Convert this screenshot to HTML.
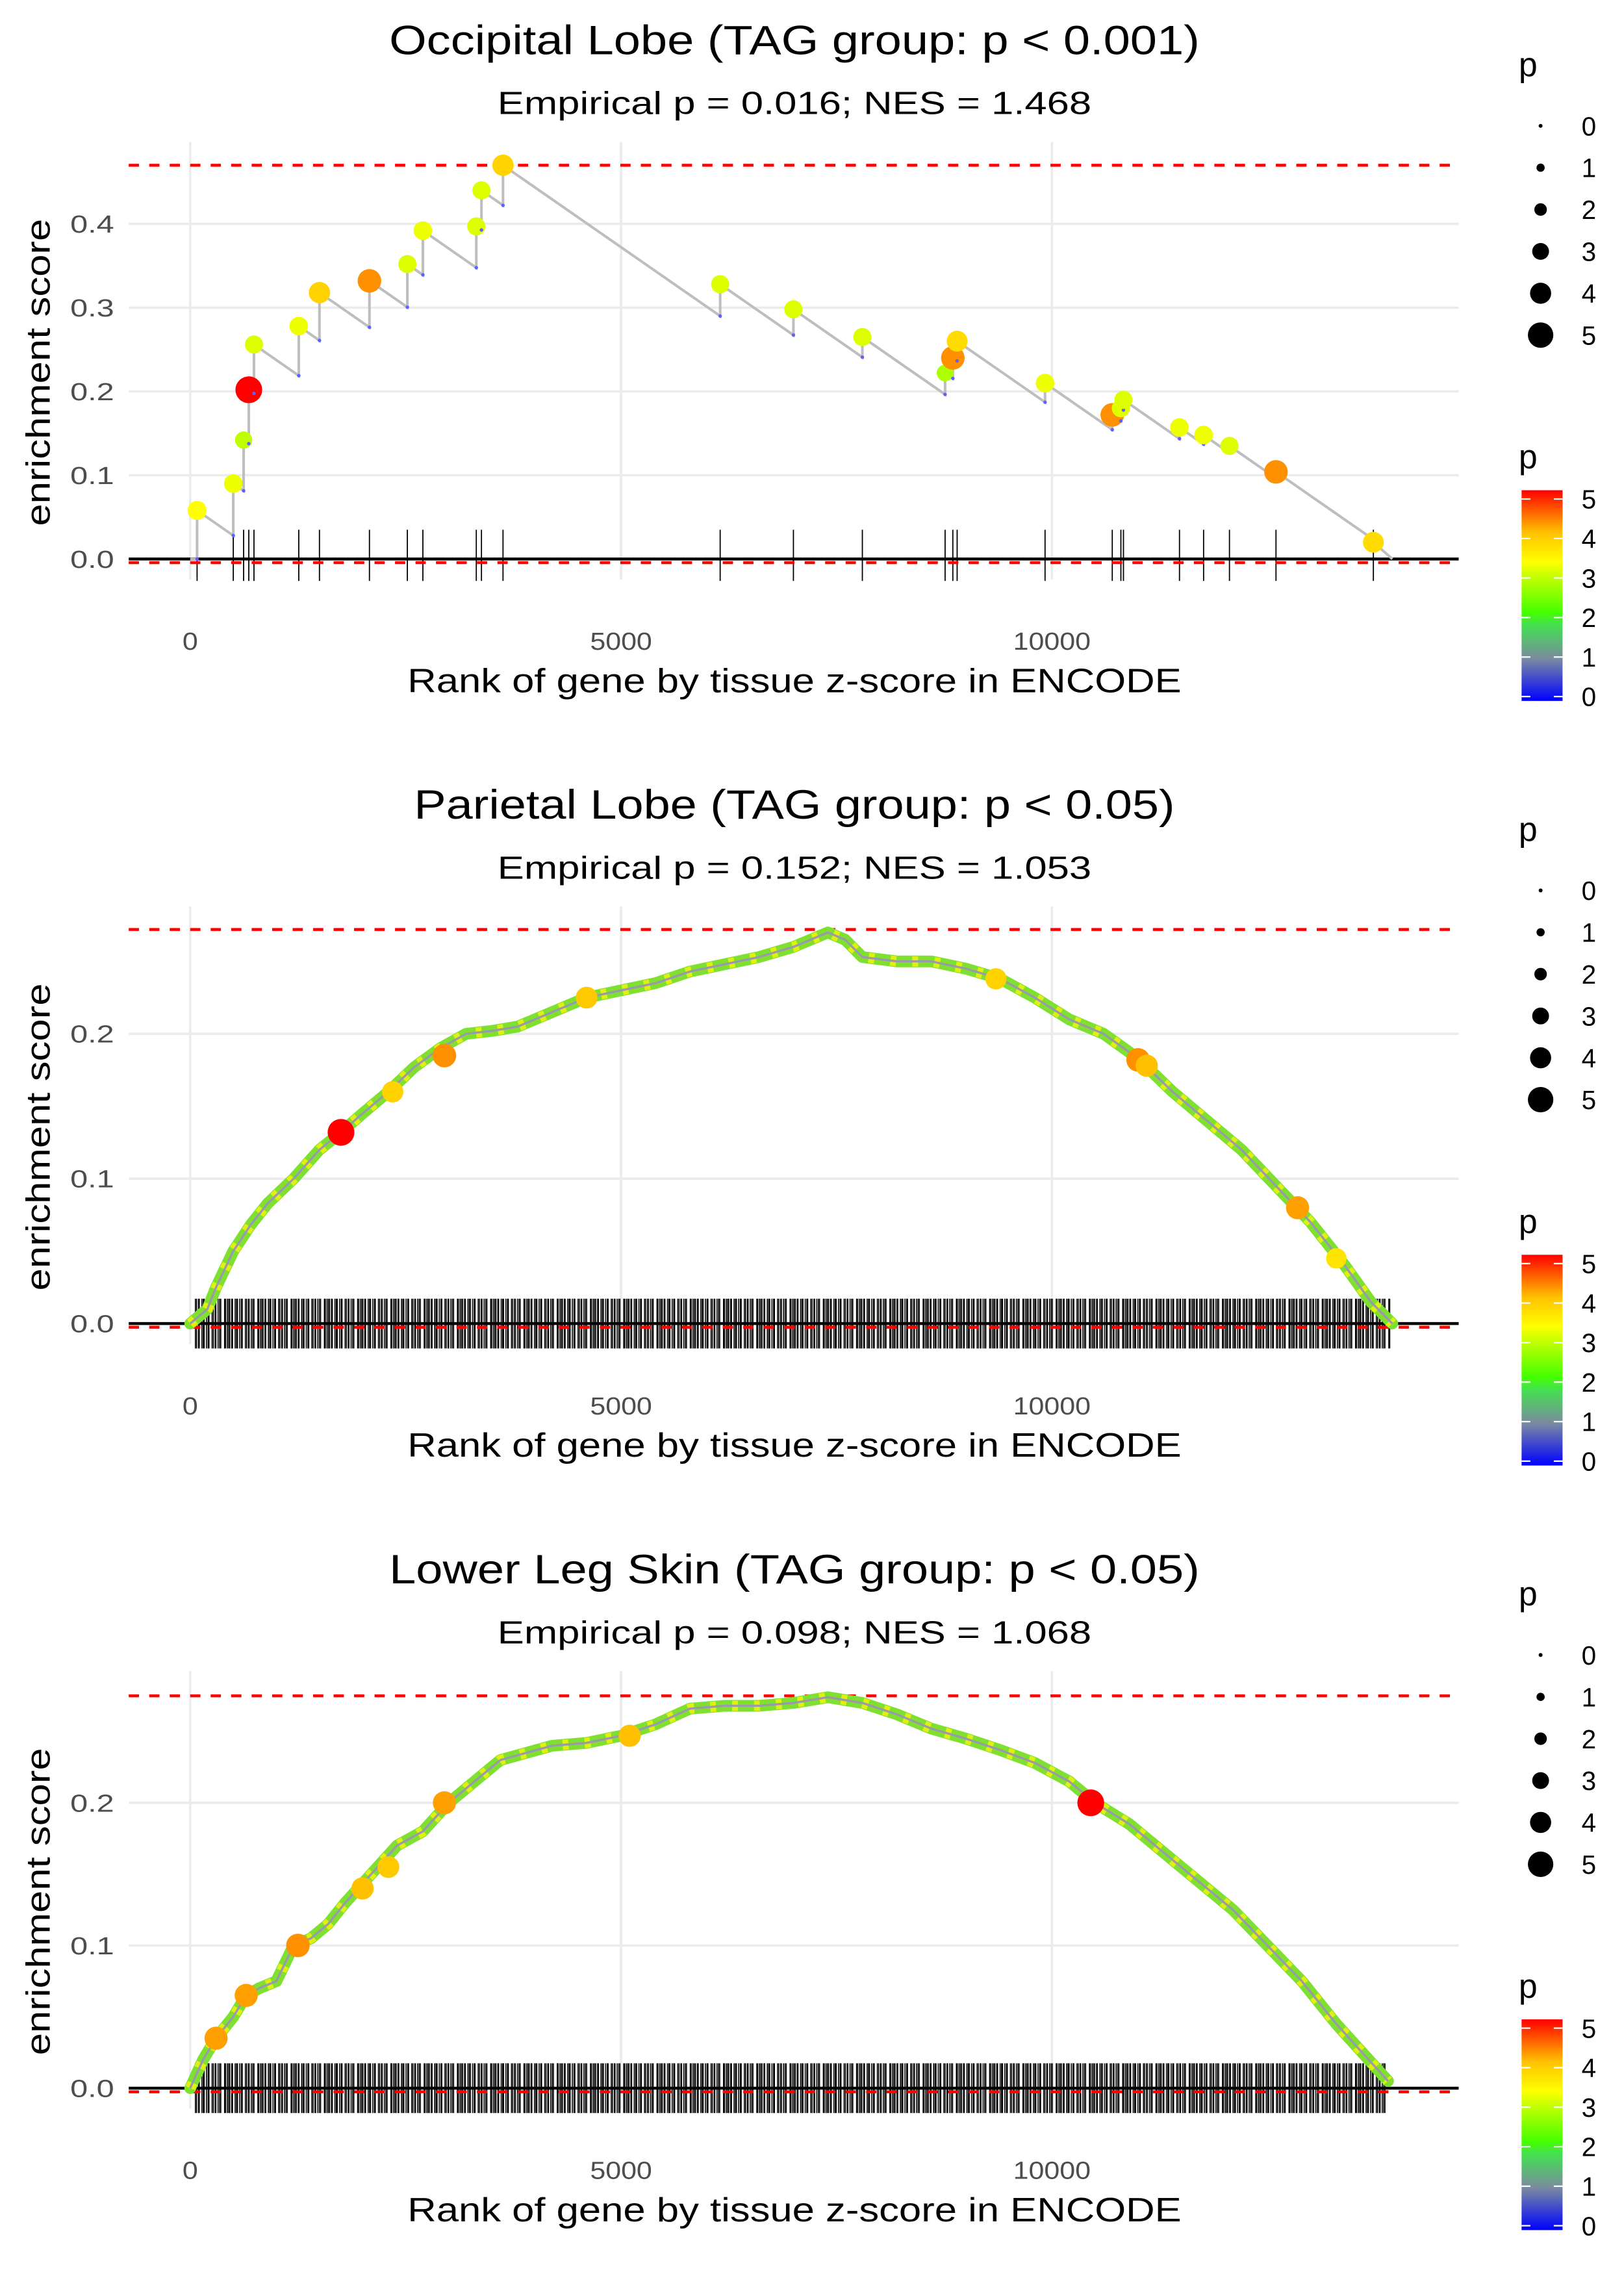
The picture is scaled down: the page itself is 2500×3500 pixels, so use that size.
<!DOCTYPE html>
<html><head><meta charset="utf-8"><style>
html,body{margin:0;padding:0;background:#fff}
svg{display:block;font-family:"Liberation Sans",sans-serif}
</style></head><body>
<svg id="fig" width="2500" height="3500" viewBox="0 0 1110 1554" xmlns="http://www.w3.org/2000/svg">
<defs>
<linearGradient id="pgrad" x1="0" y1="1" x2="0" y2="0">
<stop offset="0" stop-color="#0000ff"/><stop offset="0.2" stop-color="#7a8aa0"/><stop offset="0.36" stop-color="#44e050"/><stop offset="0.42" stop-color="#44ff00"/><stop offset="0.6" stop-color="#ccff00"/><stop offset="0.66" stop-color="#ffff00"/><stop offset="0.8" stop-color="#ffc000"/><stop offset="1" stop-color="#ff0000"/>
</linearGradient>
</defs>
</svg>
<script>
// ---------- data ----------
const titles = ["Occipital Lobe (TAG group: p < 0.001)","Parietal Lobe (TAG group: p < 0.05)","Lower Leg Skin (TAG group: p < 0.05)"];
const subtitles = ["Empirical p = 0.016; NES = 1.468","Empirical p = 0.152; NES = 1.053","Empirical p = 0.098; NES = 1.068"];
const xTicks = [0,5000,10000];
const yTicks1 = [0,0.1,0.2,0.3,0.4];
const yTicks23 = [0,0.1,0.2];
const maxES = [0.47,0.272,0.275];
// panel 1 hits
const p1Rank = [80,500,620,680,740,1260,1500,2080,2520,2700,3320,3380,3630,6150,7000,7800,8760,8850,8900,9920,10700,10800,10830,11480,11760,12060,12600,13730];
const p1ES =   [0.058,0.09,0.142,0.202,0.256,0.278,0.318,0.332,0.352,0.392,0.397,0.44,0.47,0.328,0.298,0.265,0.222,0.24,0.26,0.21,0.172,0.18,0.19,0.157,0.148,0.135,0.104,0.02];
const p1P =    [3.3,3.2,2.9,5,3.1,3.2,3.8,4.3,3.1,3.2,3.1,3.1,3.8,3.1,3.1,3.1,2.8,4.3,3.7,3.2,4.3,3.1,3.1,3.2,3.2,3.1,4.3,3.7];
const p1End = 13950;
// panel 2 running ES
const p2Rank = [0,200,300,500,700,900,1200,1500,1750,2000,2300,2600,2900,3200,3500,3800,4200,4600,5000,5400,5800,6200,6600,7000,7400,7600,7800,8200,8600,9000,9400,9800,10200,10600,11000,11400,11800,12200,12600,13000,13400,13700,13950];
const p2ES =   [0,0.01,0.025,0.05,0.068,0.083,0.1,0.12,0.132,0.145,0.16,0.177,0.19,0.2,0.202,0.205,0.215,0.225,0.23,0.235,0.243,0.248,0.253,0.26,0.27,0.265,0.253,0.25,0.25,0.245,0.238,0.225,0.21,0.2,0.183,0.16,0.14,0.12,0.095,0.07,0.04,0.015,0];
const p2BigRank = [1750,2350,2950,4600,9350,11000,11100,12850,13300];
const p2BigES =   [0.132,0.16,0.185,0.225,0.238,0.182,0.178,0.08,0.045];
const p2BigP =    [5,3.8,4.3,3.9,3.8,4.3,4,4.2,3.6];
// panel 3 running ES
const p3Rank = [0,150,300,500,650,800,1000,1200,1400,1600,1800,2100,2400,2700,3000,3300,3600,3900,4200,4600,5000,5400,5800,6200,6600,7000,7400,7800,8200,8600,9000,9400,9800,10200,10500,10900,11300,11700,12100,12500,12900,13300,13600,13900];
const p3ES =   [0,0.02,0.035,0.05,0.065,0.07,0.075,0.1,0.105,0.115,0.13,0.15,0.17,0.18,0.2,0.215,0.23,0.235,0.24,0.242,0.247,0.255,0.266,0.268,0.268,0.27,0.274,0.27,0.262,0.252,0.245,0.237,0.228,0.215,0.2,0.185,0.165,0.145,0.125,0.1,0.075,0.045,0.025,0.005];
const p3BigRank = [300,650,1250,2000,2300,2950,5100,10450];
const p3BigES =   [0.035,0.065,0.1,0.14,0.155,0.2,0.247,0.2];
const p3BigP =    [4.2,4.2,4.3,4,3.9,4.2,4,5];
const rugGaps = [14,22,9,30,16,12,26,19,10,36,15,21,8,25,18,14,44,11,20,16];
const legendVals = [0,1,2,3,4,5];

// ---------- helpers ----------
const NS = "http://www.w3.org/2000/svg";
const svg = document.getElementById('fig');
function mk(tag, attrs, parent){const e=document.createElementNS(NS,tag);for(const k in attrs)e.setAttribute(k,attrs[k]);(parent||svg).appendChild(e);return e;}
function txt(s, attrs, parent){const e=mk('text',attrs,parent);e.textContent=s;return e;}
function pColor(p){
  const stops=[[0,[0,0,255]],[1,[122,138,160]],[1.8,[68,224,80]],[2.1,[68,255,0]],[3,[204,255,0]],[3.3,[255,255,0]],[4,[255,192,0]],[4.4,[255,128,0]],[5,[255,0,0]]];
  for(let i=1;i<stops.length;i++){if(p<=stops[i][0]){const a=stops[i-1],b=stops[i];const t=(p-a[0])/(b[0]-a[0]);const c=a[1].map((v,j)=>Math.round(v+(b[1][j]-v)*t));return `rgb(${c})`;}}
  return 'rgb(255,0,0)';
}
function pR(p){return 1.4+p*1.55;}
const X0=130, XS=(719-130)/10000, PL=88, PR=997;
const xS = r => X0 + r*XS;

function panel(i, yZero, yUnit, yTicks, top){
  const off = i*522.5;
  const g = mk('g',{},svg);
  
  
  const yS = v => yZero + off - v*yUnit;
  const tlen = [554,520,554][i];
  const t = txt(titles[i],{x:543,y:37+off,'font-size':28,'text-anchor':'middle',fill:'#000',textLength:tlen,lengthAdjust:'spacingAndGlyphs'},g);
   
  const st = txt(subtitles[i],{x:543,y:78+off,'font-size':22,'text-anchor':'middle',fill:'#000',textLength:406,lengthAdjust:'spacingAndGlyphs'},g);
   
  const bottom = 396+off, tp = top+off;
  xTicks.forEach(v=>{
    const l=mk('line',{x1:xS(v),x2:xS(v),y1:tp,y2:bottom,stroke:'#ebebeb','stroke-width':1.6},g);
     
    const s=String(v);
    const tl=txt(s,{x:xS(v),y:444+off,'font-size':17,'text-anchor':'middle',fill:'#4d4d4d',textLength:s.length*10.6,lengthAdjust:'spacingAndGlyphs'},g);
     
  });
  yTicks.forEach(v=>{
    const l=mk('line',{x1:PL,x2:PR,y1:yS(v),y2:yS(v),stroke:'#ebebeb','stroke-width':1.6},g);
     
    const tl=txt(v.toFixed(1),{x:78,y:yS(v)+6,'font-size':17,'text-anchor':'end',fill:'#4d4d4d',textLength:30,lengthAdjust:'spacingAndGlyphs'},g);
     
  });
  const xt=txt('Rank of gene by tissue z-score in ENCODE',{x:543,y:473+off,'font-size':23,'text-anchor':'middle',fill:'#000',textLength:529,lengthAdjust:'spacingAndGlyphs'},g);
   
  const yc=(tp+bottom)/2+8;
  const yt=txt('enrichment score',{x:34,y:yc,'font-size':23,'text-anchor':'middle',fill:'#000',textLength:210,lengthAdjust:'spacingAndGlyphs',transform:`rotate(-90 34 ${yc})`},g);
   
  return {g,yS,off};
}
function dashes(g,yS,maxv){
  const a=mk('line',{x1:PL,x2:PR,y1:yS(maxv),y2:yS(maxv),stroke:'#ff0000','stroke-width':2,'stroke-dasharray':'7,7'},g);
   
  const b=mk('line',{x1:PL,x2:PR,y1:yS(0)+2.5,y2:yS(0)+2.5,stroke:'#ff0000','stroke-width':2,'stroke-dasharray':'7,7'},g);
   
}
function baseline(g,yS){
  const b=mk('line',{x1:PL,x2:PR,y1:yS(0),y2:yS(0),stroke:'#000','stroke-width':2},g);
   
}

// ---------- panel 1 ----------
(function(){
  const {g,yS,off}=panel(0,382,572.5,yTicks1,97);
  const decay=0.18/2520;
  p1Rank.forEach(r=>{const l=mk('line',{x1:xS(r),x2:xS(r),y1:362+off,y2:397+off,stroke:'#000','stroke-width':0.8},g);
     });
  baseline(g,yS); dashes(g,yS,maxES[0]);
  let pts=[[xS(0),yS(0)]], prev=0, prevR=0;
  const lows=[];
  p1Rank.forEach((r,k)=>{const low=k===0?0:Math.max(0,prev-decay*(r-prevR));lows.push(low);pts.push([xS(r),yS(low)]);pts.push([xS(r),yS(p1ES[k])]);prev=p1ES[k];prevR=r;});
  pts.push([xS(p1End),yS(0)]);
  const pl=mk('polyline',{points:pts.map(p=>p.join(',')).join(' '),fill:'none',stroke:'#bebebe','stroke-width':1.8},g);
   
  p1Rank.forEach((r,k)=>{
    const lo=mk('circle',{cx:xS(r),cy:yS(lows[k]),r:1.2,fill:'#6060ff'},g);
     
    const c=mk('circle',{cx:xS(r),cy:yS(p1ES[k]),r:pR(p1P[k]),fill:pColor(p1P[k])},g);
     
  });
})();

// ---------- panels 2 & 3 ----------
function densePanel(i,yZero,yUnit,ranks,es,bR,bE,bP){
  const {g,yS,off}=panel(i,yZero,yUnit,yTicks23,97);
  let r=60,k=0;
  while(r<ranks[ranks.length-1]-20){
    const l=mk('line',{x1:xS(r),x2:xS(r),y1:365+off,y2:399+off,stroke:'#000','stroke-width':0.7},g);
     
    r+=rugGaps[k%rugGaps.length]; k++;
  }
  baseline(g,yS); dashes(g,yS,maxES[i]);
  const pstr=ranks.map((r,j)=>xS(r)+','+yS(es[j])).join(' ');
  const w=mk('polyline',{points:pstr,fill:'none',stroke:'#7fe030','stroke-width':8,'stroke-linejoin':'round','stroke-linecap':'round'},g);
   
  const y2=mk('polyline',{points:pstr,fill:'none',stroke:'#e0f010','stroke-width':7,'stroke-dasharray':'4,11','stroke-linejoin':'round'},g);
   
  const l=mk('polyline',{points:pstr,fill:'none',stroke:'#9a9aa8','stroke-width':1.5,'stroke-linejoin':'round'},g);
   
  bR.forEach((r,j)=>{const c=mk('circle',{cx:xS(r),cy:yS(bE[j]),r:pR(bP[j]),fill:pColor(bP[j])},g);
     });
}
densePanel(1,382,990,p2Rank,p2ES,p2BigRank,p2BigES,p2BigP);
densePanel(2,382,975,p3Rank,p3ES,p3BigRank,p3BigES,p3BigP);

// ---------- legends ----------
for(let i=0;i<3;i++){
  const off=i*522.5;
  const g=mk('g',{},svg);
   
  txt('p',{x:1038,y:52+off,'font-size':23,fill:'#000'},g);
  legendVals.forEach((v,j)=>{
    const y=86+j*28.6+off;
    const c=mk('circle',{cx:1053,cy:y,r:pR(v)*0.95,fill:'#000'},g);
     
    txt(String(v),{x:1081,y:y+6.5,'font-size':18,fill:'#000'},g);
  });
  txt('p',{x:1038,y:320+off,'font-size':23,fill:'#000'},g);
  const bar=mk('rect',{x:1040,y:335+off,width:28,height:144,fill:'url(#pgrad)'},g);
   
  legendVals.forEach((v,j)=>{
    const y=476+off-v*27;
    mk('line',{x1:1040,x2:1046,y1:y,y2:y,stroke:'#fff','stroke-width':1},g);
    mk('line',{x1:1062,x2:1068,y1:y,y2:y,stroke:'#fff','stroke-width':1},g);
    txt(String(v),{x:1081,y:y+6.5,'font-size':18,fill:'#000'},g);
  });
}
</script>
</body></html>
